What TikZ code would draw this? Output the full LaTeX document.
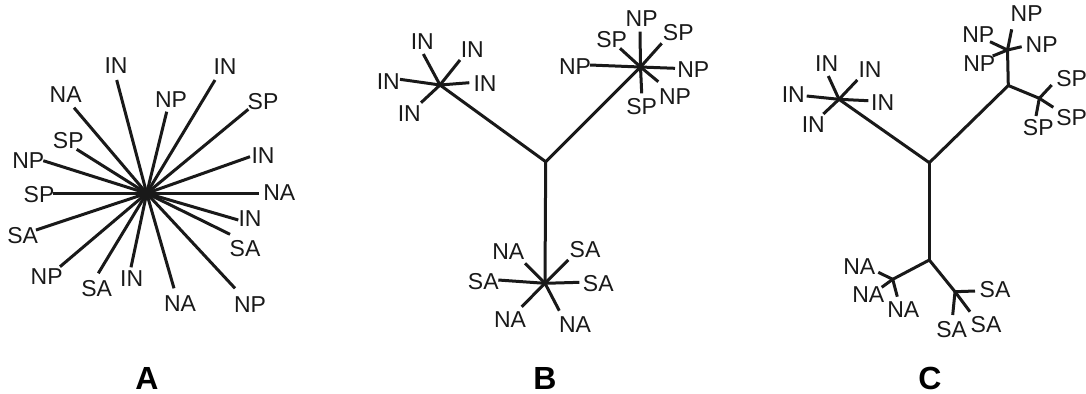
\documentclass[tikz,border=0pt]{standalone}
\usepackage{fontspec}
\setmainfont{Liberation Sans}
\usepackage{tikz}
\usetikzlibrary{calc}

\begin{document}
\begin{tikzpicture}[x=0.5pt,y=-0.5pt,
  br/.style={line width=1.5pt,black!90},
  lbl/.style={font=\fontsize{11.5}{12}\selectfont,inner sep=0pt,text=black!90},
  panel/.style={font=\bfseries\fontsize{16}{16}\selectfont,inner sep=0pt}]
\useasboundingbox (0,0) rectangle (1086,393);
% A: star
\coordinate (a0) at (146.7,193.3);
\foreach \ex/\ey/\lx/\ly/\t [count=\i] in {
  116.7/80/116/66/IN, 215/80/225/67/IN, 74/107.7/65.7/95/NA, 166.7/111.7/171/100/NP,
  248.3/109.3/263/101.7/SP, 76.7/149.3/68.3/141/SP, 43.3/160.7/28.3/160.7/NP,
  250/156.7/263/155.7/IN, 53.3/193.3/39/194.3/SP, 259.3/193.3/279.3/192.3/NA,
  36/230/22.7/236/SA, 238.3/220/250/219/IN, 230/234.3/245/248.3/SA,
  60/266.7/46.7/276.7/NP, 98.3/273.3/96.7/288.3/SA, 131/267.3/131.7/278.3/IN,
  174/288.3/180/303.3/NA, 235/288.3/250/305/NP}{
  \coordinate (a\i) at (\ex,\ey);
  \node[lbl] (la\i) at (\lx,\ly) {\t};
  \draw[br] (a0) -- (a\i);
}
\node[panel] (pa) at (147,378) {A};
% B: three hubs
\coordinate (bj) at (545.7,161.7);
\coordinate (bi) at (440,85);
\coordinate (bp) at (640.5,67);
\coordinate (ba) at (545,283.3);
\draw[br] (bi) -- (bj) -- (bp); \draw[br] (bj) -- (ba);
\foreach \ex/\ey/\lx/\ly/\t [count=\i] in {
  400/79.3/388.3/81.7/IN, 469.3/82.7/485/83.3/IN, 421/102.7/409.3/114/IN,
  460/60/472.3/50/IN, 423.3/54/422.3/41.7/IN}{
  \coordinate (bi\i) at (\ex,\ey);
  \node[lbl] (lbi\i) at (\lx,\ly) {\t};
  \draw[br] (bi) -- (bi\i);
}
\foreach \ex/\ey/\lx/\ly/\t [count=\i] in {
  640/31.7/641.7/18.3/NP, 620/48.3/611.7/39.3/SP, 661.7/43.3/678.3/32.7/SP,
  590/65/575/66.7/NP, 675/68.3/693.3/70/NP, 658.3/81.7/675/96.7/NP,
  641.7/93.3/641.7/106.7/SP}{
  \coordinate (bp\i) at (\ex,\ey);
  \node[lbl] (lbp\i) at (\lx,\ly) {\t};
  \draw[br] (bp) -- (bp\i);
}
\foreach \ex/\ey/\lx/\ly/\t [count=\i] in {
  525/263.3/508.3/251.7/NA, 568.3/260/585/250/SA, 498.3/280/483.3/281.7/SA,
  579.3/282.3/598.3/283.3/SA, 521.7/306.7/510/320/NA, 559.3/310.7/575/325/NA}{
  \coordinate (ba\i) at (\ex,\ey);
  \node[lbl] (lba\i) at (\lx,\ly) {\t};
  \draw[br] (ba) -- (ba\i);
}
\node[panel] (pb) at (545,378) {B};
% C: nested tree
\coordinate (cj) at (929.3,162.7);
\coordinate (ci) at (839,99.3);
\coordinate (cu) at (1008.3,85.5);
\coordinate (cn) at (1007.5,50);
\coordinate (cs) at (1039.3,98.3);
\coordinate (cl) at (929.3,260);
\coordinate (cna) at (892.7,279.3);
\coordinate (csa) at (955,291.7);
\draw[br] (ci) -- (cj) -- (cu) -- (cn); \draw[br] (cu) -- (cs);
\draw[br] (cj) -- (cl); \draw[br] (cna) -- (cl) -- (csa);
\foreach \ex/\ey/\lx/\ly/\t [count=\i] in {
  806.7/96/793.3/95/IN, 868.3/100.7/882.7/102.7/IN, 823.3/114/813.3/125/IN,
  857.3/80/870/69.3/IN, 828.3/76/826.7/63.3/IN}{
  \coordinate (ci\i) at (\ex,\ey);
  \node[lbl] (lci\i) at (\lx,\ly) {\t};
  \draw[br] (ci) -- (ci\i);
}
\foreach \ex/\ey/\lx/\ly/\t [count=\i] in {
  1011.7/29.3/1026.7/13.3/NP, 990/41.7/978.3/35/NP,
  1021.7/46.7/1041.7/45/NP, 992.7/56/979.3/63.3/NP}{
  \coordinate (cn\i) at (\ex,\ey);
  \node[lbl] (lcn\i) at (\lx,\ly) {\t};
  \draw[br] (cn) -- (cn\i);
}
\foreach \ex/\ey/\lx/\ly/\t [count=\i] in {
  1051.7/85/1071.7/78.3/SP, 1053.3/107.3/1071.7/117.3/SP, 1036/116/1038.3/127.3/SP}{
  \coordinate (cs\i) at (\ex,\ey);
  \node[lbl] (lcs\i) at (\lx,\ly) {\t};
  \draw[br] (cs) -- (cs\i);
}
\foreach \ex/\ey/\lx/\ly/\t [count=\i] in {
  878.3/272.3/859.3/266.7/NA, 881.7/287.3/868.3/295/NA, 897.3/296.7/903.3/310/NA}{
  \coordinate (cna\i) at (\ex,\ey);
  \node[lbl] (lcna\i) at (\lx,\ly) {\t};
  \draw[br] (cna) -- (cna\i);
}
\foreach \ex/\ey/\lx/\ly/\t [count=\i] in {
  975/291/995/290/SA, 970/311.7/986/325/SA, 952.7/315/951.7/329.3/SA}{
  \coordinate (csa\i) at (\ex,\ey);
  \node[lbl] (lcsa\i) at (\lx,\ly) {\t};
  \draw[br] (csa) -- (csa\i);
}
\node[panel] (pc) at (930,378) {C};
\end{tikzpicture}
\end{document}
